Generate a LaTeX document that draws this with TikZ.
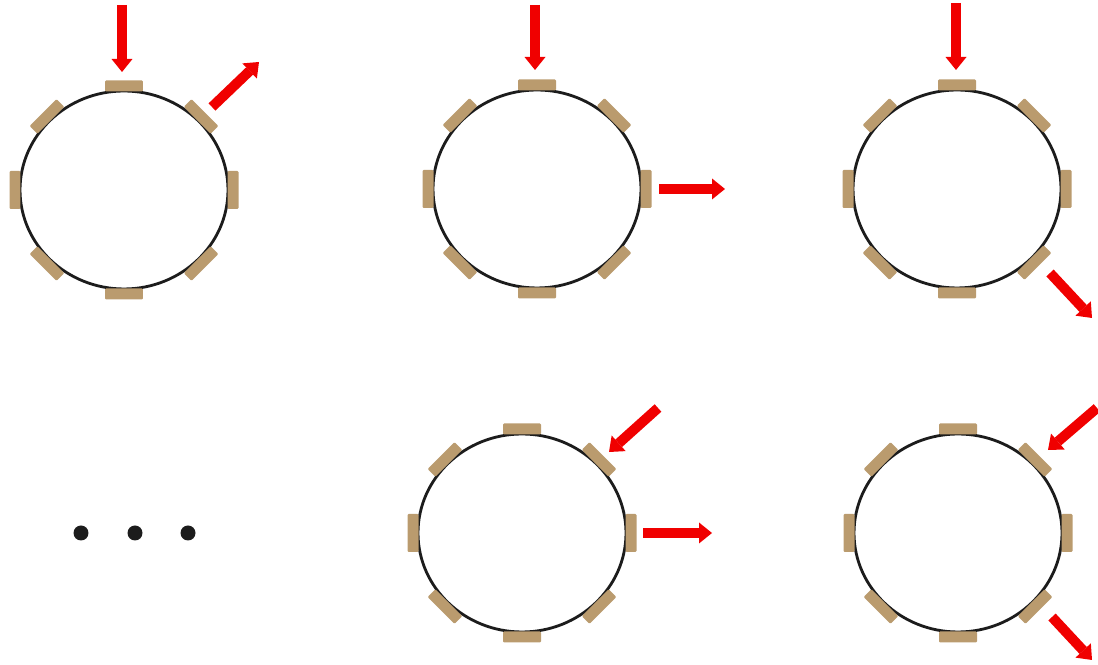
\documentclass[tikz,border=0pt]{standalone}
\usepackage{tikz}
\usetikzlibrary{arrows.meta, shapes.geometric}
\definecolor{padtan}{RGB}{186,155,110}
\definecolor{ringblack}{RGB}{28,28,28}
\definecolor{flowred}{RGB}{240,0,0}

\begin{document}
\begin{tikzpicture}[x=0.02cm, y=0.02cm,
  ring/.style={draw=ringblack, line width=1.6pt, ellipse, minimum width=4.16cm, minimum height=3.96cm, inner sep=0pt},
  pad/.style={fill=padtan, minimum width=0.76cm, minimum height=0.22cm, inner sep=0pt, rounded corners=0.6pt},
  flow/.style={draw=flowred, line width=0.2cm, -{Triangle[width=0.42cm, length=0.26cm, line width=0pt 0]}},
  dot/.style={circle, fill=ringblack, minimum size=0.3cm, inner sep=0pt}]
  \useasboundingbox (0,0) rectangle (1098,665);
  \foreach \n/\cx/\cy in {1/124/475, 2/537/476, 3/957/476, 4/522/132, 5/958/132} {
    \node[ring] (ring\n) at (\cx,\cy) {};
    \foreach \a in {0,45,...,315}
      \node[pad, rotate=\a-90] (pad\n-\a) at ({\cx+109*cos(\a)},{\cy+104*sin(\a)}) {};
  }
  \coordinate (in1a) at (122,660);  \coordinate (in1b) at (122,593);
  \coordinate (out1a) at (212,558); \coordinate (out1b) at (259,603);
  \coordinate (in2a) at (535,660);  \coordinate (in2b) at (535,595);
  \coordinate (out2a) at (659,476); \coordinate (out2b) at (725,476);
  \coordinate (in3a) at (956,662);  \coordinate (in3b) at (956,595);
  \coordinate (out3a) at (1050,392); \coordinate (out3b) at (1092,347);
  \coordinate (in4a) at (658,257);  \coordinate (in4b) at (609,213);
  \coordinate (out4a) at (643,132); \coordinate (out4b) at (712,132);
  \coordinate (in5a) at (1097,257); \coordinate (in5b) at (1048,215);
  \coordinate (out5a) at (1052,48); \coordinate (out5b) at (1092,5);
  \foreach \n in {1,...,5} {
    \draw[flow] (in\n a) -- (in\n b);
    \draw[flow] (out\n a) -- (out\n b);
  }
  \node[dot] (dotA) at (81,132) {};
  \node[dot] (dotB) at (135,132) {};
  \node[dot] (dotC) at (188,132) {};
\end{tikzpicture}
\end{document}
